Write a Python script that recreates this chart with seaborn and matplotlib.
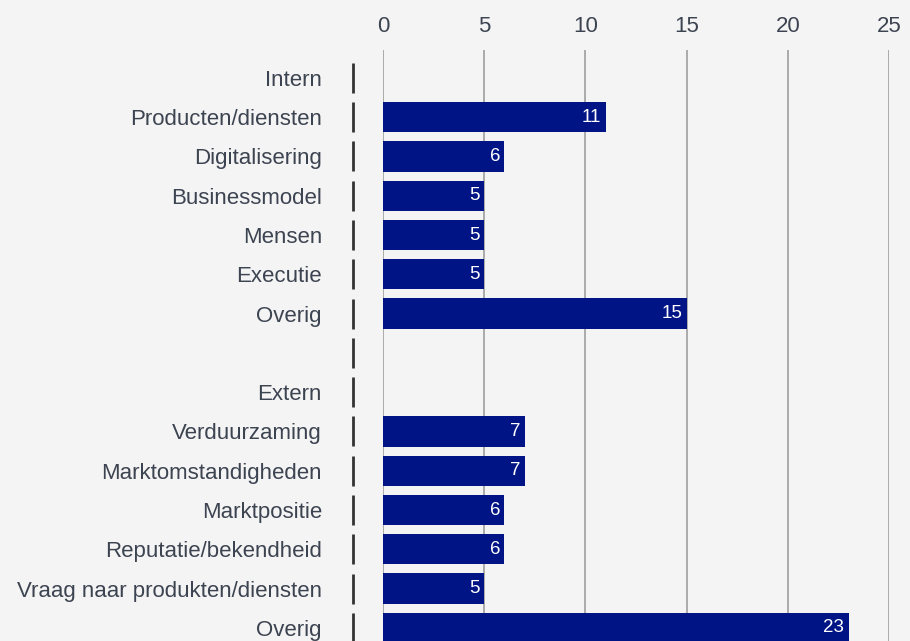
import numpy as np
import pandas as pd
import matplotlib
matplotlib.use('Agg')
import matplotlib.pyplot as plt
import matplotlib.transforms as mtransforms
import seaborn as sns

labels = ['Intern', 'Producten/diensten', 'Digitalisering', 'Businessmodel',
          'Mensen', 'Executie', 'Overig', '',
          'Extern', 'Verduurzaming', 'Marktomstandigheden', 'Marktpositie',
          'Reputatie/bekendheid', 'Vraag naar produkten/diensten', 'Overig']
values = [np.nan, 11, 6, 5, 5, 5, 15, np.nan,
          np.nan, 7, 7, 6, 6, 5, 23]
xticks = [0, 5, 10, 15, 20, 25]

bg = '#f4f4f4'
bar_color = '#001486'
text_color = '#3d4451'

sns.set_theme(style='white')
plt.rcParams['font.family'] = ['Liberation Sans', 'DejaVu Sans']

df = pd.DataFrame({'row': np.arange(len(labels)), 'value': values})

fig = plt.figure(figsize=(9.10, 6.41), dpi=100, facecolor=bg)
W, H = 910, 641
n = len(labels)
step = (628 - 78) / (n - 1)
top_px = 50
ylo, yhi = -0.71, n - 1 + 0.71
ax_h = (yhi - ylo) * step
ax = fig.add_axes([383 / W, 1 - (top_px + ax_h) / H, (889 - 383) / W, ax_h / H])
ax.set_facecolor(bg)

sns.barplot(data=df, x='value', y='row', orient='h', color=bar_color,
            width=0.77, saturation=1, linewidth=0, ax=ax, zorder=3)

ax.set_xlim(0, 25)
ax.set_ylim(yhi, ylo)
ax.set_xticks(xticks)
ax.xaxis.tick_top()
ax.tick_params(axis='x', length=0, pad=9, labelsize=16, labelcolor=text_color)
ax.set_yticks(np.arange(n))
ax.set_yticklabels(labels)
ax.tick_params(axis='y', length=0, pad=44, labelsize=16, labelcolor=text_color)
ax.set_xlabel('')
ax.set_ylabel('')
ax.grid(axis='x', color='#aaaaaa', linewidth=1.4, zorder=0)
for s in ax.spines.values():
    s.set_visible(False)

# row separator marks left of the axis
trans = mtransforms.blended_transform_factory(ax.transAxes, ax.transData)
ax.plot([-30 / (889 - 383)] * n, np.arange(n), linestyle='none', marker='|',
        markersize=21.5, markeredgewidth=2, color='#333333',
        transform=trans, clip_on=False)

# value labels inside bar ends
for p in ax.patches:
    w = p.get_width()
    if np.isnan(w) or w == 0:
        continue
    ax.annotate(f'{int(w)}', (w, p.get_y() + p.get_height() / 2),
                xytext=(-3, 0), textcoords='offset points',
                ha='right', va='center', color='white', fontsize=13.5, zorder=4)

fig.savefig('out.png', dpi=100, facecolor=bg)
